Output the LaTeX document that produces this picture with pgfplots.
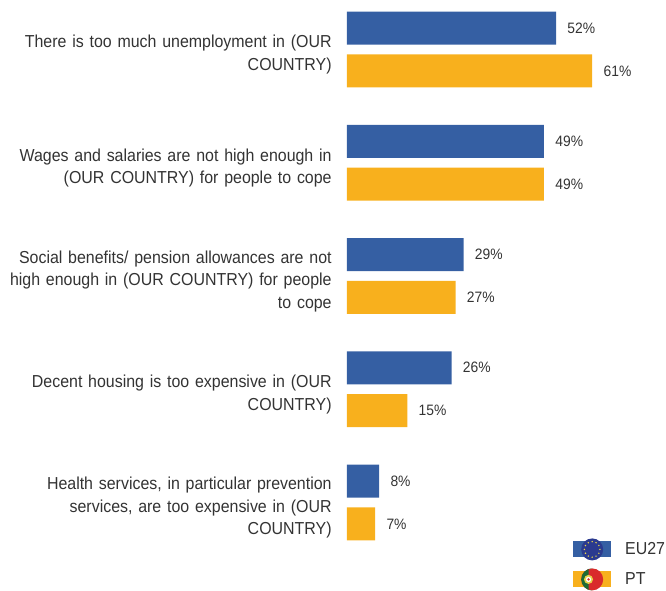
\documentclass[border=0pt]{standalone}
\usepackage{pgfplots}
\pgfplotsset{compat=1.18}
\usepackage{fontspec}
\setmainfont[FakeStretch=0.92]{Liberation Sans}
\definecolor{eublue}{HTML}{355FA3}
\definecolor{ptorange}{HTML}{F8B01D}
\definecolor{txt}{HTML}{333333}
\definecolor{flagblue}{HTML}{2B3A8F}
\definecolor{flagstar}{HTML}{E8D44A}
\definecolor{flagred}{HTML}{D92B2B}
\definecolor{flaggreen}{HTML}{1E6B34}
\begin{document}
\begin{tikzpicture}[x=1pt,y=1pt]
\path[use as bounding box] (-260.25,0) rectangle (239.25,442.5);
\begin{axis}[
  at={(0,0)}, anchor=south west,
  scale only axis,
  width=239.25pt, height=442.5pt,
  xbar,
  bar width=24.75pt,
  xmin=0, xmax=79.35,
  ymin=-0.437, ymax=4.773,
  y dir=reverse,
  axis line style={draw=none},
  xtick=\empty,
  ytick={0,1,2,3,4},
  yticklabels={
    {There is too much unemployment in (OUR\\COUNTRY)},
    {Wages and salaries are not high enough in\\(OUR COUNTRY) for people to cope},
    {Social benefits/ pension allowances are not\\high enough in (OUR COUNTRY) for people\\to cope},
    {Decent housing is too expensive in (OUR\\COUNTRY)},
    {Health services, in particular prevention\\services, are too expensive in (OUR\\COUNTRY)}},
  major tick length=0pt,
  y tick label style={align=right, text width=256pt, anchor=east, xshift=-8pt, yshift=-4pt,
    font=\fontsize{13}{17}\selectfont, text=txt},
  clip=false,
  /pgf/number format/assume math mode=true,
  nodes near coords={\pgfmathprintnumber{\pgfplotspointmeta}\%},
  nodes near coords align={horizontal},
  every node near coord/.append style={font=\fontsize{11.3}{14}\selectfont, text=txt, xshift=5pt},
  legend style={at={(1,0)}, anchor=south east, draw=none, fill=none,
    font=\fontsize{13}{14}\selectfont, text=txt, row sep=6pt, inner sep=0pt,
    yshift=-0.5pt, xshift=1.5pt},
  legend cell align=left,
]
% the two series are placed by hand so that EU27 sits above PT
\addplot[fill=eublue, draw=none, bar shift=16.1pt,
  legend image code/.code={
    \path (37pt,0pt) circle (0pt);
    \fill[eublue] (0pt,-6pt) rectangle (28.5pt,6pt);
    \fill[flagblue] (14.25pt,0pt) circle (8.25pt);
    \foreach \a in {0,30,...,330}{\fill[flagstar] (14.25pt,0pt) ++(\a:5.8pt) circle (0.6pt);}
  }] coordinates {(52,0) (49,1) (29,2) (26,3) (8,4)};
\addlegendentry{EU27}
\addplot[fill=ptorange, draw=none, bar shift=-16.1pt,
  legend image code/.code={
    \path (37pt,0pt) circle (0pt);
    \fill[ptorange] (0pt,-6pt) rectangle (28.5pt,6pt);
    \fill[flagred] (14.25pt,0pt) circle (8.25pt);
    \fill[flaggreen] (14.25pt,8.25pt) arc (90:270:8.25pt) -- (11.5pt,-7.8pt) -- (11.5pt,7.8pt) -- cycle;
    \fill[flagstar] (11.5pt,0pt) circle (3.4pt);
    \fill[white] (11.5pt,0pt) circle (2pt);
    \fill[flagred] (11.5pt,0pt) circle (1pt);
  }] coordinates {(61,0) (49,1) (27,2) (15,3) (7,4)};
\addlegendentry{PT}
\end{axis}
\end{tikzpicture}
\end{document}
